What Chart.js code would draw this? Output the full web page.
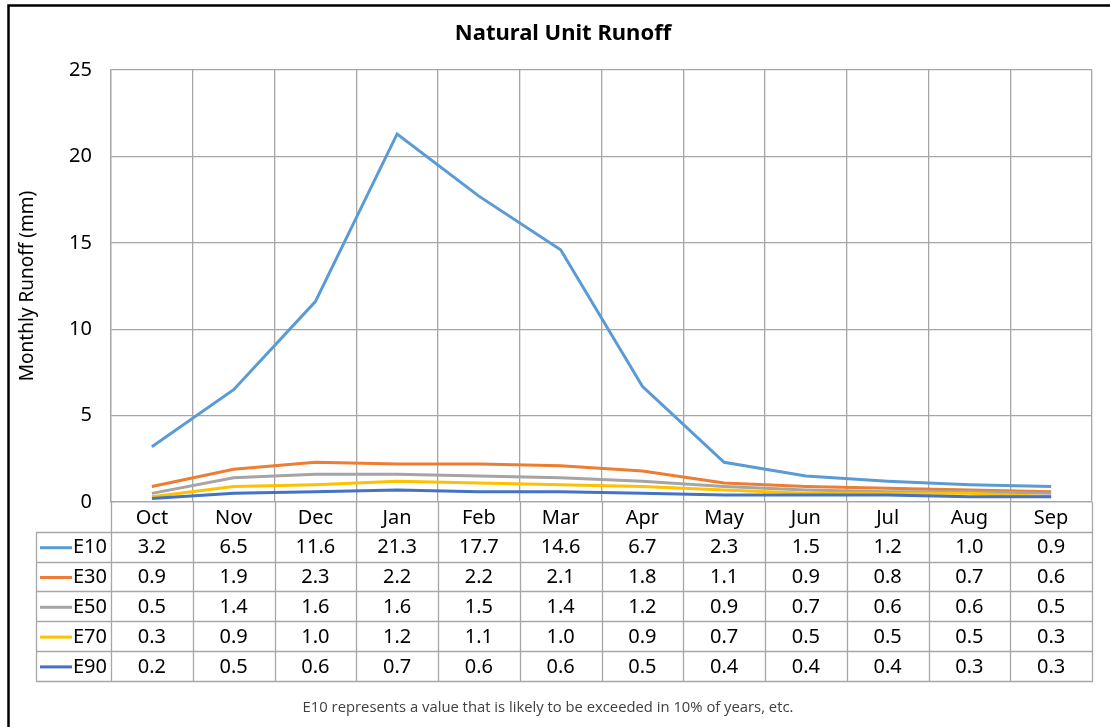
<!DOCTYPE html>
<html>
<head>
<meta charset="utf-8">
<script src="https://cdn.jsdelivr.net/npm/chart.js@4.4.1/dist/chart.umd.min.js"></script>
<style>
  html, body { margin: 0; padding: 0; background: #ffffff; }
  #c { display: block; }
</style>
</head>
<body>
<canvas id="c" width="1110" height="727"></canvas>
<script>
// ---- Data ----
const months = ['Oct', 'Nov', 'Dec', 'Jan', 'Feb', 'Mar', 'Apr', 'May', 'Jun', 'Jul', 'Aug', 'Sep'];
const seriesNames = ['E10', 'E30', 'E50', 'E70', 'E90'];
const e10 = [3.2, 6.5, 11.6, 21.3, 17.7, 14.6, 6.7, 2.3, 1.5, 1.2, 1.0, 0.9];
const e30 = [0.9, 1.9, 2.3, 2.2, 2.2, 2.1, 1.8, 1.1, 0.9, 0.8, 0.7, 0.6];
const e50 = [0.5, 1.4, 1.6, 1.6, 1.5, 1.4, 1.2, 0.9, 0.7, 0.6, 0.6, 0.5];
const e70 = [0.3, 0.9, 1.0, 1.2, 1.1, 1.0, 0.9, 0.7, 0.5, 0.5, 0.5, 0.3];
const e90 = [0.2, 0.5, 0.6, 0.7, 0.6, 0.6, 0.5, 0.4, 0.4, 0.4, 0.3, 0.3];
const yTicks = [0, 5, 10, 15, 20, 25];
const titleText = 'Natural Unit Runoff';
const yTitleText = 'Monthly Runoff (mm)';
const footnoteText = 'E10 represents a value that is likely to be exceeded in 10% of years, etc.';

const seriesValues = [e10, e30, e50, e70, e90];
const seriesColors = ['#5B9BD5', '#ED7D31', '#A5A5A5', '#FFC000', '#4472C4'];

const FONT = '"Noto Sans", "Open Sans", sans-serif';
const GRID = '#a6a6a6';

const tablePlugin = {
  id: 'tablePlugin',
  afterDraw(chart) {
    const ctx = chart.ctx;
    const xs = chart.scales.x;
    const area = chart.chartArea;
    const n = months.length;
    const colW = (area.right - area.left) / n;
    const rowH = 29.8;
    const top = area.bottom;
    const tableLeft = 36;
    const nRows = seriesNames.length;
    const bottom = top + rowH * (nRows + 1);

    ctx.save();
    // Table grid lines
    ctx.strokeStyle = GRID;
    ctx.lineWidth = 1.3;
    ctx.beginPath();
    for (let i = 0; i <= n; i++) {
      const x = Math.round(area.left + colW * i) + 0.5;
      ctx.moveTo(x, top);
      ctx.lineTo(x, bottom);
    }
    ctx.moveTo(tableLeft + 0.5, top + rowH);
    ctx.lineTo(tableLeft + 0.5, bottom);
    for (let r = 1; r <= nRows + 1; r++) {
      const y = Math.round(top + rowH * r) + 0.5;
      ctx.moveTo(tableLeft, y);
      ctx.lineTo(area.right + 1, y);
    }
    ctx.stroke();

    // Rows
    ctx.font = '20px ' + FONT;
    ctx.fillStyle = '#000';
    ctx.textBaseline = 'middle';
    for (let r = 0; r < nRows; r++) {
      const cy = top + rowH * (r + 1.5);
      // legend key
      ctx.strokeStyle = seriesColors[r];
      ctx.lineWidth = 3;
      ctx.beginPath();
      ctx.moveTo(40, cy + 1);
      ctx.lineTo(72, cy + 1);
      ctx.stroke();
      ctx.textAlign = 'left';
      ctx.fillText(seriesNames[r], 73, cy + 1);
      ctx.textAlign = 'center';
      const vals = seriesValues[r];
      for (let i = 0; i < n; i++) {
        ctx.fillText(vals[i].toFixed(1), xs.getPixelForValue(i), cy + 1);
      }
    }

    // Title
    ctx.font = 'bold 22px ' + FONT;
    ctx.textAlign = 'center';
    ctx.fillText(titleText, 563, 34);

    // Y axis title
    ctx.save();
    ctx.translate(28, (area.top + area.bottom) / 2);
    ctx.rotate(-Math.PI / 2);
    ctx.font = '19px ' + FONT;
    ctx.fillText(yTitleText, 0, 0);
    ctx.restore();

    // Footnote
    ctx.font = '14.8px "Open Sans", "Noto Sans", sans-serif';
    ctx.fillStyle = '#404040';
    ctx.fillText(footnoteText, 548, 708);

    // Outer frame (left and top visible)
    ctx.strokeStyle = '#000';
    ctx.lineWidth = 2.5;
    ctx.strokeRect(8.5, 5.5, 1200, 800);
    ctx.restore();
  }
};

new Chart(document.getElementById('c'), {
  type: 'line',
  data: {
    labels: months,
    datasets: seriesNames.map((name, i) => ({
      label: name,
      data: seriesValues[i],
      borderColor: seriesColors[i],
      backgroundColor: seriesColors[i],
      borderWidth: 3,
      pointRadius: 0,
      tension: 0,
      fill: false,
      order: seriesNames.length - i
    }))
  },
  options: {
    responsive: false,
    animation: false,
    layout: { padding: { left: 9, top: 70, right: 18, bottom: 0 } },
    plugins: {
      legend: { display: false },
      title: { display: false },
      tooltip: { enabled: false }
    },
    scales: {
      x: {
        offset: true,
        grid: { offset: true, color: GRID, lineWidth: 1.3, drawTicks: false },
        border: { color: GRID, width: 1.3 },
        ticks: { color: '#000', font: { family: FONT, size: 20 }, padding: 4, maxRotation: 0, autoSkip: false },
        afterFit(s) { s.height = 225; }
      },
      y: {
        min: yTicks[0],
        max: yTicks[yTicks.length - 1],
        afterBuildTicks(s) { s.ticks = yTicks.map(v => ({ value: v })); },
        grid: { color: GRID, lineWidth: 1.3, drawTicks: false },
        border: { color: GRID, width: 1.3 },
        ticks: { color: '#000', font: { family: FONT, size: 20 }, padding: 19 },
        afterFit(s) { s.width = 102; }
      }
    }
  },
  plugins: [tablePlugin]
});
</script>
</body>
</html>
